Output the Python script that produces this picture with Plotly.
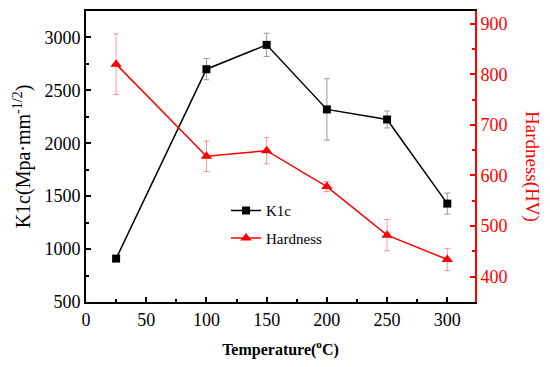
import plotly.graph_objects as go

temps = [25, 100, 150, 200, 250, 300]
k1c = [910, 2700, 2930, 2320, 2225, 1430]
k1c_err = [0, 100, 110, 290, 80, 100]
hardness = [820, 638, 649, 578, 482, 434]
hardness_err = [60, 30, 26, 10, 31, 22]

FONT = "Liberation Serif, Times New Roman, serif"

fig = go.Figure()
fig.add_trace(go.Scatter(
    x=temps, y=k1c, name="K1c", mode="lines+markers", legendgroup="a",
    line=dict(color="black", width=1.5),
    marker=dict(symbol="square", size=8, color="black"),
    error_y=dict(type="data", array=k1c_err, color="#999999", thickness=1, width=3),
    yaxis="y"))
fig.add_trace(go.Scatter(
    x=temps, y=hardness, name="Hardness", mode="lines+markers", legendgroup="b",
    line=dict(color="red", width=1.5),
    marker=dict(symbol="triangle-up", size=10, color="red"),
    error_y=dict(type="data", array=hardness_err, color="rgba(255,0,0,0.4)", thickness=1, width=3),
    yaxis="y2"))

fig.update_layout(
    width=550, height=367,
    margin=dict(l=78, r=83, t=3, b=73),
    paper_bgcolor="white", plot_bgcolor="white",
    font=dict(family=FONT, size=17, color="black"),
    showlegend=True,
    legend=dict(x=0.36, y=0.37, xanchor="left", yanchor="top",
                bgcolor="rgba(0,0,0,0)", font=dict(size=15, family=FONT),
                traceorder="grouped", tracegroupgap=5),
    xaxis=dict(
        range=[0, 323], dtick=50, tick0=0, automargin=False,
        showline=True, linecolor="black", linewidth=2, mirror=True,
        ticks="inside", ticklen=5, tickwidth=1.5, tickcolor="black",
        minor=dict(dtick=25, ticks="inside", ticklen=3, tickcolor="black", tickwidth=1.5),
        showgrid=False, zeroline=False,
        tickfont=dict(size=18),
        title=dict(text="<b>Temperature(<sup>o</sup>C)</b>", font=dict(size=16), standoff=15)),
    yaxis=dict(
        range=[500, 3250], dtick=500, tick0=500, automargin=False,
        showline=True, linecolor="black", linewidth=2,
        ticks="inside", ticklen=5, tickwidth=1.5, tickcolor="black",
        minor=dict(dtick=250, ticks="inside", ticklen=3, tickcolor="black", tickwidth=1.5),
        showgrid=False, zeroline=False,
        tickfont=dict(size=18),
        title=dict(text="K1c(Mpa·mm<sup>-1/2</sup>)", font=dict(size=20), standoff=8)),
    yaxis2=dict(
        range=[350, 925], dtick=100, tick0=400, automargin=False,
        overlaying="y", side="right", anchor="x",
        showline=True, linecolor="red", linewidth=2,
        ticks="inside", ticklen=5, tickwidth=1.5, tickcolor="red",
        minor=dict(dtick=50, ticks="inside", ticklen=3, tickcolor="red", tickwidth=1.5),
        showgrid=False, zeroline=False,
        tickfont=dict(size=18, color="red")),
    annotations=[dict(
        text="Hardness(HV)", textangle=90, showarrow=False,
        xref="paper", yref="paper", x=1.1465, y=0.464,
        xanchor="center", yanchor="middle",
        font=dict(size=19, color="red", family=FONT))],
)

fig.write_html("out.html")
